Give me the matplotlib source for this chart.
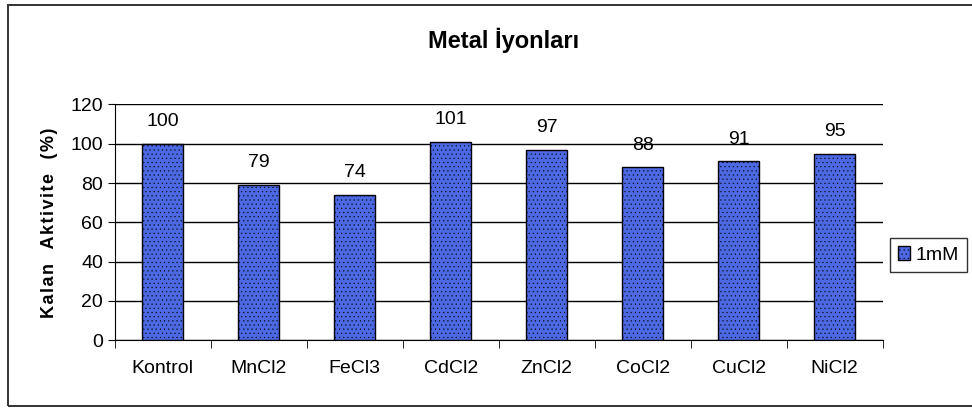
import numpy as np
import matplotlib
matplotlib.use('Agg')
import matplotlib.pyplot as plt
from matplotlib.patches import Rectangle

categories = ['Kontrol', 'MnCl2', 'FeCl3', 'CdCl2', 'ZnCl2', 'CoCl2', 'CuCl2', 'NiCl2']
values = [100, 79, 74, 101, 97, 88, 91, 95]
yticks = [0, 20, 40, 60, 80, 100, 120]

plt.rcParams['font.family'] = ['Liberation Sans', 'DejaVu Sans']
plt.rcParams['hatch.color'] = '#34409c'
plt.rcParams['hatch.linewidth'] = 0.3

fig = plt.figure(figsize=(9.72, 4.08), dpi=100)
ax = fig.add_axes([0.118, 0.166, 0.79, 0.578])

x = np.arange(len(categories))
bars = ax.bar(x, values, width=0.43, color='#4c68e2', edgecolor='black',
              linewidth=1.0, hatch='....', label='1mM', zorder=3)
for xi, v in zip(x, values):
    ax.text(xi, v + 7, str(v), ha='center', va='bottom', fontsize=14)

ax.set_xlim(-0.5, len(categories) - 0.5)
ax.set_ylim(0, 120)
ax.set_yticks(yticks)
ax.tick_params(axis='y', labelsize=14, length=5, direction='out')
ax.set_xticks(x)
ax.set_xticklabels(categories, fontsize=14)
ax.tick_params(axis='x', length=0, pad=14)
ax.set_xticks(np.arange(len(categories) + 1) - 0.5, minor=True)
ax.tick_params(axis='x', which='minor', length=6, direction='out')
ax.yaxis.grid(True, color='black', linewidth=1.0, zorder=0)
ax.set_axisbelow(True)
for s in ['top', 'right']:
    ax.spines[s].set_visible(False)
ylab = 'Kalan  Aktivite  (%)'
ax.set_ylabel('\u200a'.join(ylab), fontsize=13, fontweight='bold', labelpad=9)

fig.text(0.518, 0.9, 'Metal İyonları', ha='center', va='center', fontsize=17, fontweight='bold')

leg = fig.legend(handles=[bars], labels=['1mM'], loc='center left',
                 bbox_to_anchor=(0.906, 0.375), fontsize=14, frameon=True,
                 fancybox=False, edgecolor='black', handlelength=0.6, handleheight=0.7,
                 handletextpad=0.3, borderpad=0.4)
leg.get_frame().set_linewidth(1.0)

fig.patches.append(Rectangle((0.008, 0.004), 1.1, 0.984, transform=fig.transFigure,
                             fill=False, edgecolor='#333333', linewidth=1.4))

fig.savefig('out.png', dpi=100)
